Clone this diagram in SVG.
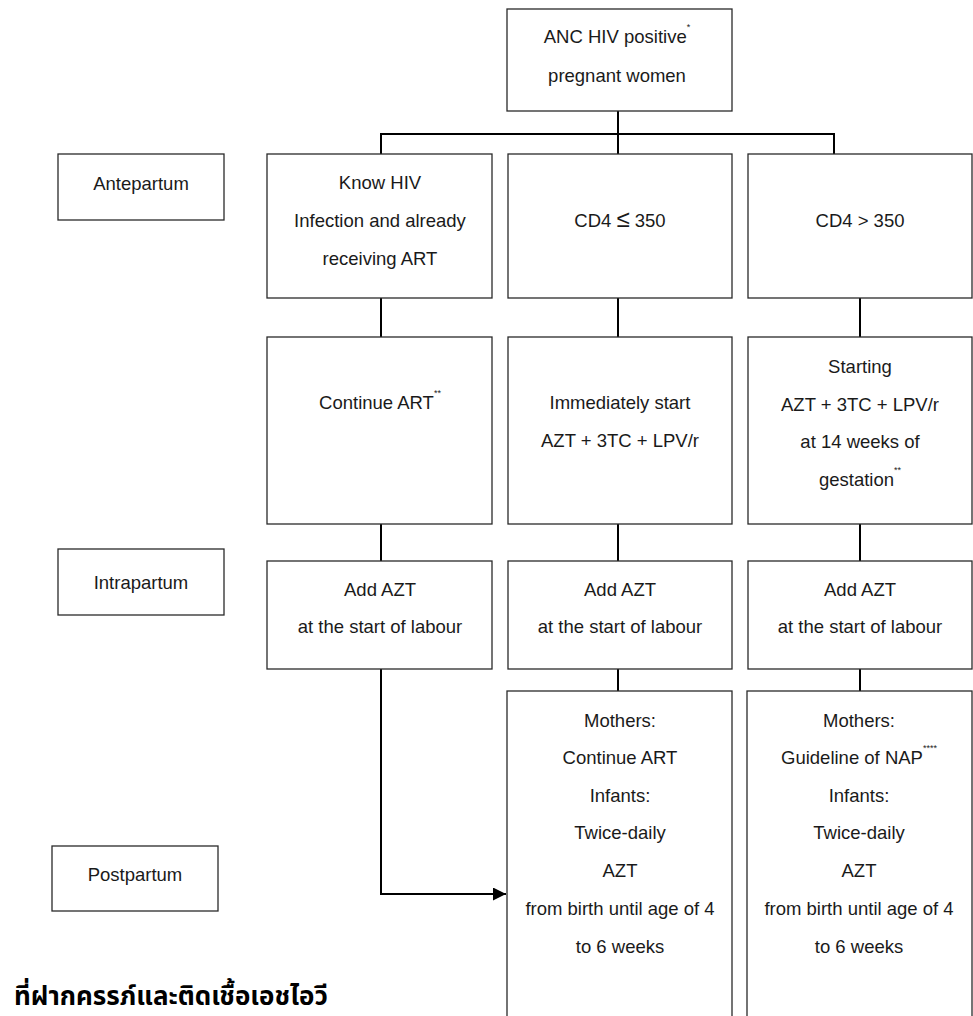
<svg xmlns="http://www.w3.org/2000/svg" width="973" height="1016" viewBox="0 0 973 1016">
<style>
.box{fill:#fff;stroke:#2a2a2a;stroke-width:1.3}
.t{font-family:"Liberation Sans",Arial,sans-serif;font-size:18.5px;fill:#1a1a1a;text-anchor:middle}
.sup{font-size:9px}
.con{fill:none;stroke:#000;stroke-width:2}
.th{font-family:"Noto Sans Thai","Noto Sans","DejaVu Sans",sans-serif;font-size:26px;font-weight:bold;fill:#000}
</style>
<defs>
<marker id="arr" viewBox="0 0 10 10" refX="10" refY="5" markerWidth="17" markerHeight="13" markerUnits="userSpaceOnUse" orient="auto">
<path d="M0,0 L10,5 L0,10 Z" fill="#000"/>
</marker>
</defs>
<rect width="973" height="1016" fill="#fff"/>
<g id="connectors">
<path class="con" d="M618,111 V154"/>
<path class="con" d="M381,154 V134 H834 V154"/>
<path class="con" d="M381,298 V337"/>
<path class="con" d="M618,298 V337"/>
<path class="con" d="M860,298 V337"/>
<path class="con" d="M381,524 V561"/>
<path class="con" d="M618,524 V561"/>
<path class="con" d="M860,524 V561"/>
<path class="con" d="M618,669 V691"/>
<path class="con" d="M860,669 V691"/>
<path class="con" d="M381,669 V894 H506" marker-end="url(#arr)"/>
</g>
<g id="top">
<rect class="box" x="507" y="9" width="225" height="102"/>
<text class="t" x="617" y="43">ANC HIV positive<tspan class="sup" dy="-13">*</tspan></text>
<text class="t" x="617" y="82">pregnant women</text>
</g>
<g id="antepartum">
<rect class="box" x="58" y="154" width="166" height="66"/>
<text class="t" x="141" y="190">Antepartum</text>
</g>
<g id="intrapartum">
<rect class="box" x="58" y="549" width="166" height="66"/>
<text class="t" x="141" y="589">Intrapartum</text>
</g>
<g id="postpartum">
<rect class="box" x="52" y="846" width="166" height="65"/>
<text class="t" x="135" y="881">Postpartum</text>
</g>
<g id="known">
<rect class="box" x="267" y="154" width="225" height="144"/>
<text class="t" x="380" y="189">Know HIV</text>
<text class="t" x="380" y="227">Infection and already</text>
<text class="t" x="380" y="265">receiving ART</text>
</g>
<g id="cd4low">
<rect class="box" x="508" y="154" width="224" height="144"/>
<text class="t" x="620" y="227">CD4 <tspan font-size="24">≤</tspan> 350</text>
</g>
<g id="cd4high">
<rect class="box" x="748" y="154" width="224" height="144"/>
<text class="t" x="860" y="227">CD4 &gt; 350</text>
</g>
<g id="continue">
<rect class="box" x="267" y="337" width="225" height="187"/>
<text class="t" x="380" y="409">Continue ART<tspan class="sup" dy="-13">**</tspan></text>
</g>
<g id="immediate">
<rect class="box" x="508" y="337" width="224" height="187"/>
<text class="t" x="620" y="409">Immediately start</text>
<text class="t" x="620" y="447">AZT + 3TC + LPV/r</text>
</g>
<g id="starting">
<rect class="box" x="748" y="337" width="224" height="187"/>
<text class="t" x="860" y="373">Starting</text>
<text class="t" x="860" y="411">AZT + 3TC + LPV/r</text>
<text class="t" x="860" y="448">at 14 weeks of</text>
<text class="t" x="860" y="486">gestation<tspan class="sup" dy="-13">**</tspan></text>
</g>
<g id="addazt1">
<rect class="box" x="267" y="561" width="225" height="108"/>
<text class="t" x="380" y="596">Add AZT</text>
<text class="t" x="380" y="633">at the start of labour</text>
</g>
<g id="addazt2">
<rect class="box" x="508" y="561" width="224" height="108"/>
<text class="t" x="620" y="596">Add AZT</text>
<text class="t" x="620" y="633">at the start of labour</text>
</g>
<g id="addazt3">
<rect class="box" x="748" y="561" width="224" height="108"/>
<text class="t" x="860" y="596">Add AZT</text>
<text class="t" x="860" y="633">at the start of labour</text>
</g>
<g id="post2">
<rect class="box" x="507" y="691" width="225" height="340"/>
<text class="t" x="620" y="727">Mothers:</text>
<text class="t" x="620" y="764">Continue ART</text>
<text class="t" x="620" y="802">Infants:</text>
<text class="t" x="620" y="839">Twice-daily</text>
<text class="t" x="620" y="877">AZT</text>
<text class="t" x="620" y="915">from birth until age of 4</text>
<text class="t" x="620" y="953">to 6 weeks</text>
</g>
<g id="post3">
<rect class="box" x="747" y="691" width="225" height="340"/>
<text class="t" x="859" y="727">Mothers:</text>
<text class="t" x="859" y="764">Guideline of NAP<tspan class="sup" dy="-13">****</tspan></text>
<text class="t" x="859" y="802">Infants:</text>
<text class="t" x="859" y="839">Twice-daily</text>
<text class="t" x="859" y="877">AZT</text>
<text class="t" x="859" y="915">from birth until age of 4</text>
<text class="t" x="859" y="953">to 6 weeks</text>
</g>
<g id="caption">
<text class="th" x="14" y="1005">ที่ฝากครรภ์และติดเชื้อเอชไอวี</text>
</g>
</svg>
